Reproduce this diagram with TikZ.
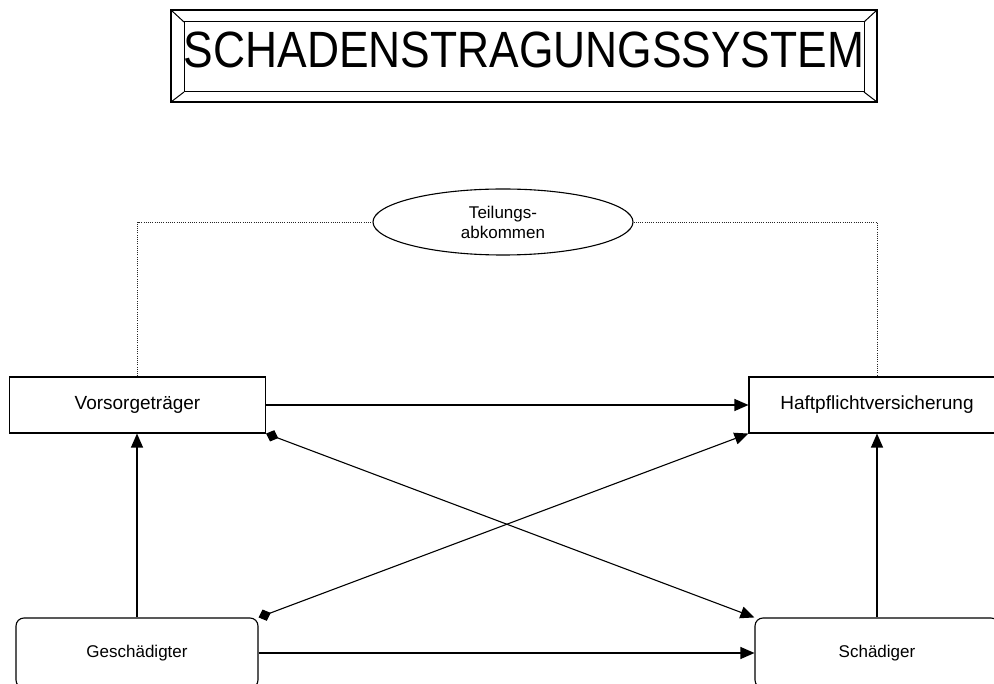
\documentclass[tikz,border=0pt]{standalone}
\usepackage{fontspec}
\setmainfont{Liberation Sans}
\usetikzlibrary{arrows.meta,shapes.geometric}

\begin{document}
\begin{tikzpicture}[x=1pt,y=-1pt,
  every node/.style={font=\fontsize{17}{20}\selectfont},
  box/.style={draw, line width=1.1pt, inner sep=0pt, align=center},
  bigbox/.style={box, minimum width=256pt, minimum height=56pt, font=\fontsize{19}{22}\selectfont},
  roundbox/.style={box, rounded corners=8pt, minimum height=70pt},
  tip/.style={Triangle[length=14pt,width=12pt]},
  arr/.style={line width=1.1pt, -{Triangle[length=14pt,width=12pt]}},
  diaarr/.style={line width=1.1pt, {Diamond[length=13pt,width=12pt]}-{Triangle[length=14pt,width=12pt]}},
  dotline/.style={line width=0.9pt, dash pattern=on 1pt off 1.2pt, black!85},
  bevel/.style={line width=1pt}]
\clip (0,0) rectangle (994,684);

% title plate with bevelled frame
\draw[bevel, line width=1.3pt] (171,10) rectangle (877,102);
\draw[bevel] (184,22) rectangle (864,92);
\draw[bevel] (171,10) -- (184,22) (877,10) -- (864,22)
             (171,102) -- (184,92) (877,102) -- (864,92);
\node[anchor=base, inner sep=0pt] (title) at (524,68)
  {\scalebox{0.87}[1]{\fontsize{51}{60}\selectfont SCHADENSTRAGUNGSSYSTEM}};

% parties
\node[bigbox] (vt) at (137.5,405) {Vorsorgeträger};
\node[bigbox] (hv) at (877,405) {Haftpflichtversicherung};
\node[roundbox, minimum width=242pt] (ge) at (137,653) {Geschädigter};
\node[roundbox, minimum width=244pt] (sc) at (877,653) {Schädiger};
\node[box, ellipse, minimum width=260pt, minimum height=66pt] (tk) at (503,222) {Teilungs-\\abkommen};

% agreement link
\draw[dotline] (vt.north) |- (tk.west);
\draw[dotline] (tk.east) -| (hv.north);

% claims
\draw[arr] (vt.east) -- (hv.west);
\draw[arr] (ge.east) -- (sc.west);
\draw[arr] (ge.north) -- (ge.north |- vt.south);
\draw[arr] (sc.north) -- (sc.north |- hv.south);
\draw[diaarr] (vt.south east) -- (sc.north west);
\draw[diaarr] (ge.north east) -- (hv.south west);
\end{tikzpicture}
\end{document}
